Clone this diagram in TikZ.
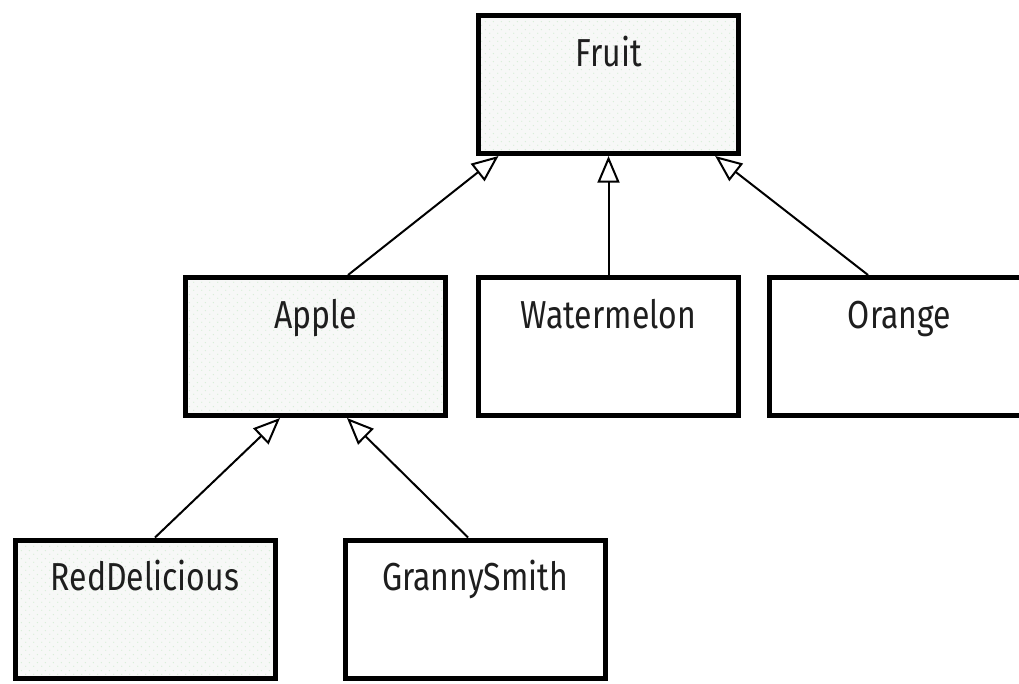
\documentclass[tikz,border=0pt]{standalone}
\usepackage{fontspec}
\setmainfont{Fira Sans}[FakeStretch=0.82]
\usetikzlibrary{arrows.meta,patterns.meta}

% faint staggered dots used on the shaded class boxes
\tikzdeclarepattern{
  name=classdots, type=uncolored,
  bounding box={(0pt,0pt) and (6pt,6pt)},
  tile size={(6pt,6pt)},
  code={
    \fill (1.5pt,1.5pt) circle (0.55pt);
    \fill (4.5pt,4.5pt) circle (0.55pt);
  }
}

\definecolor{shade}{RGB}{247,248,247}
\definecolor{dotgreen}{RGB}{214,238,214}
\definecolor{ink}{RGB}{30,30,30}

\tikzset{
  classbox/.style={draw=black, line width=3.75pt, rectangle,
    minimum width=195pt, minimum height=103.5pt, inner sep=0pt},
  plainbox/.style={classbox, fill=white},
  shadedbox/.style={classbox,
    preaction={fill=shade},
    preaction={pattern=classdots, pattern color=dotgreen}},
  classname/.style={anchor=base, inner sep=0pt, text=ink,
    font=\fontsize{29.25}{30}\selectfont},
  inherits/.style={draw=black, line width=1.5pt,
    -{Triangle[open, length=20pt, width=16.5pt, fill=white]}}
}

\begin{document}
\begin{tikzpicture}[x=0.75pt, y=-0.75pt]
  \useasboundingbox (0,0) rectangle (1019,683);
  \clip (0,0) rectangle (1019,683);
  \fill[white] (0,0) rectangle (1019,683);

  % class boxes
  \node[shadedbox] (fruit) at (608.5,84.5) {};
  \node[shadedbox] (apple) at (315.5,346.5) {};
  \node[plainbox]  (water) at (608.5,346.5) {};
  \node[plainbox]  (orange) at (899.5,346.5) {};
  \node[shadedbox] (red) at (145,609) {};
  \node[plainbox]  (granny) at (475,609) {};

  % class names
  \node[classname] (fruitname)  at (608.5,66) {Fruit};
  \node[classname] (applename)  at (315.5,328) {Apple};
  \node[classname] (watername)  at (608.5,328) {Watermelon};
  \node[classname] (orangename) at (899.5,328) {Orange};
  \node[classname] (redname)    at (145,590.5) {RedDelicious};
  \node[classname] (grannyname) at (475,590.5) {GrannySmith};

  % generalisation arrows
  \draw[inherits] ([xshift=24.4pt]apple.north) -- ([xshift=-82.5pt]fruit.south);
  \draw[inherits] (water.north) -- (fruit.south);
  \draw[inherits] ([xshift=-23.6pt]orange.north) -- ([xshift=80pt]fruit.south);
  \draw[inherits] ([xshift=7.5pt]red.north) -- ([xshift=-26.6pt]apple.south);
  \draw[inherits] ([xshift=-5.2pt]granny.north) -- ([xshift=23.6pt]apple.south);
\end{tikzpicture}
\end{document}
